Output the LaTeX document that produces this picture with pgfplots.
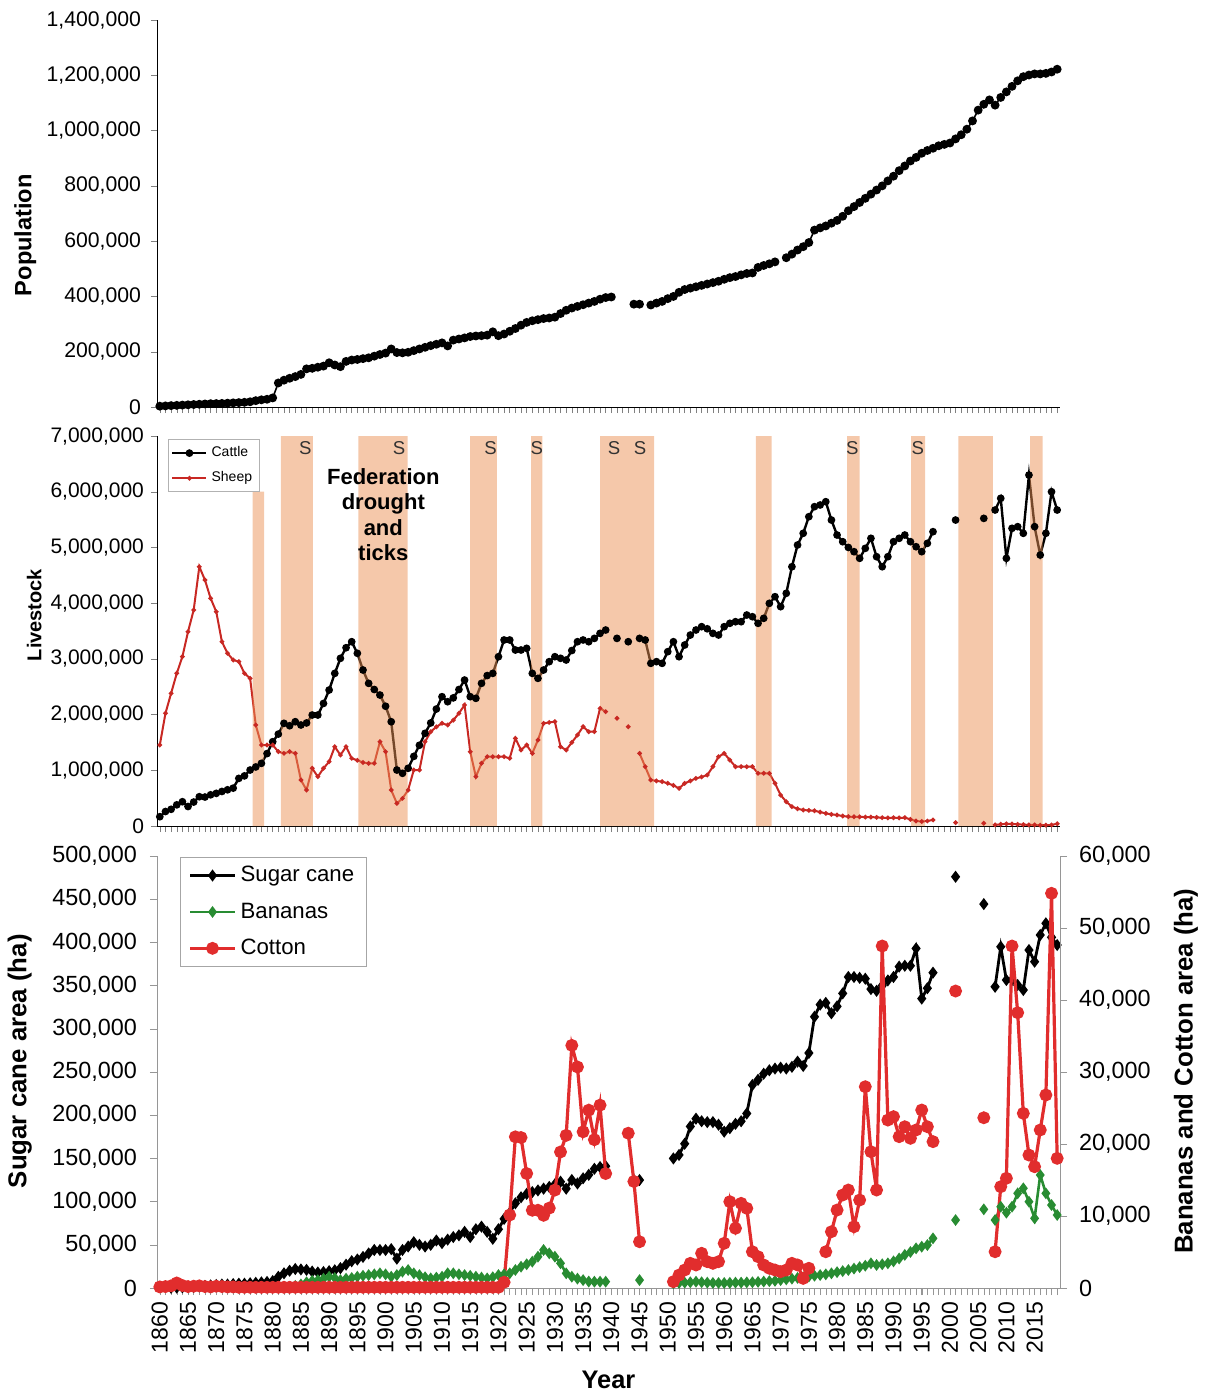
\documentclass[border=0pt]{standalone}
\usepackage{fontspec}
\setmainfont{Liberation Sans}
\usepackage{pgfplots}
\usepackage{pgfplotstable}
\pgfplotsset{compat=1.18}

\definecolor{bandc}{RGB}{235,145,85}
\definecolor{sheepred}{RGB}{200,40,35}
\definecolor{cottonred}{RGB}{225,45,45}
\definecolor{bananagreen}{RGB}{40,140,50}
\definecolor{axgray}{RGB}{150,150,150}
\definecolor{sgray}{RGB}{50,50,50}

% Population
\pgfplotstableread{
year pop
1860 3000
1861 4000
1862 5000
1863 6000
1864 7000
1865 8000
1866 9000
1867 10000
1868 11000
1869 12000
1870 12500
1871 13000
1872 14000
1873 15000
1874 16000
1875 17000
1876 19000
1877 23000
1878 26000
1879 28000
1880 33000
1881 87000
1882 97000
1883 104000
1884 110000
1885 118000
1886 138000
1887 140000
1888 144000
1889 148000
1890 160000
1891 152000
1892 146000
1893 165000
1894 170000
1895 172000
1896 175000
1897 178000
1898 184000
1899 190000
1900 195000
1901 210000
1902 197000
1903 196000
1904 198000
1905 204000
1906 210000
1907 216000
1908 222000
1909 227000
1910 232000
1911 221000
1912 242000
1913 246000
1914 250000
1915 255000
1916 257000
1917 258000
1918 260000
1919 272000
1920 258000
1921 264000
1922 274000
1923 284000
1924 296000
1925 306000
1926 312000
1927 316000
1928 320000
1929 322000
1930 325000
1931 338000
1932 350000
1933 358000
1934 364000
1935 370000
1936 376000
1937 382000
1938 390000
1939 396000
1940 398000
1941 nan
1942 nan
1943 nan
1944 372000
1945 372000
1946 nan
1947 369000
1948 376000
1949 382000
1950 392000
1951 400000
1952 415000
1953 425000
1954 430000
1955 435000
1956 440000
1957 445000
1958 450000
1959 455000
1960 462000
1961 468000
1962 472000
1963 478000
1964 483000
1965 485000
1966 505000
1967 512000
1968 518000
1969 525000
1970 nan
1971 540000
1972 553000
1973 568000
1974 580000
1975 595000
1976 640000
1977 648000
1978 655000
1979 665000
1980 675000
1981 690000
1982 710000
1983 725000
1984 740000
1985 755000
1986 770000
1987 785000
1988 800000
1989 818000
1990 835000
1991 855000
1992 872000
1993 890000
1994 903000
1995 918000
1996 928000
1997 936000
1998 945000
1999 950000
2000 955000
2001 970000
2002 985000
2003 1005000
2004 1035000
2005 1074000
2006 1095000
2007 1111000
2008 1092000
2009 1120000
2010 1140000
2011 1160000
2012 1180000
2013 1195000
2014 1201000
2015 1205000
2016 1205000
2017 1207000
2018 1212000
2019 1222000
}\popdata

% Livestock numbers
\pgfplotstableread{
year cattle sheep
1860 167000 1454000
1861 260000 2023000
1862 300000 2382000
1863 380000 2740000
1864 436000 3039000
1865 350000 3488000
1866 430000 3877000
1867 526000 4654000
1868 520000 4415000
1869 560000 4087000
1870 586000 3847000
1871 620000 3308000
1872 650000 3100000
1873 680000 2980000
1874 855000 2950000
1875 900000 2740000
1876 1005000 2651000
1877 1060000 1813000
1878 1125000 1454000
1879 1300000 1454000
1880 1513000 1454000
1881 1650000 1334000
1882 1843000 1304000
1883 1800000 1334000
1884 1872000 1304000
1885 1813000 826000
1886 1850000 646000
1887 1992000 1036000
1888 1992000 885000
1889 2200000 1036000
1890 2441000 1154000
1891 2740000 1424000
1892 3010000 1274000
1893 3200000 1424000
1894 3308000 1215000
1895 3100000 1180000
1896 2800000 1140000
1897 2561000 1125000
1898 2450000 1125000
1899 2351000 1513000
1900 2150000 1334000
1901 1872000 646000
1902 1005000 407000
1903 946000 496000
1904 1036000 646000
1905 1250000 1005000
1906 1450000 1005000
1907 1664000 1513000
1908 1850000 1693000
1909 2100000 1780000
1910 2321000 1843000
1911 2231000 1813000
1912 2300000 1900000
1913 2450000 2023000
1914 2620000 2172000
1915 2321000 1334000
1916 2292000 885000
1917 2561000 1125000
1918 2700000 1244000
1919 2740000 1244000
1920 3039000 1244000
1921 3339000 1244000
1922 3339000 1215000
1923 3159000 1574000
1924 3159000 1364000
1925 3189000 1454000
1926 2740000 1304000
1927 2651000 1544000
1928 2800000 1843000
1929 2950000 1860000
1930 3039000 1872000
1931 3010000 1424000
1932 2980000 1364000
1933 3150000 1500000
1934 3308000 1633000
1935 3339000 1783000
1936 3308000 1693000
1937 3368000 1693000
1938 3458000 2112000
1939 3518000 2052000
1940 nan nan
1941 3368000 1933000
1942 nan nan
1943 3308000 1783000
1944 nan nan
1945 3368000 1304000
1946 3339000 1065000
1947 2920000 826000
1948 2950000 810000
1949 2920000 796000
1950 3129000 766000
1951 3308000 730000
1952 3039000 676000
1953 3249000 766000
1954 3428000 810000
1955 3518000 855000
1956 3578000 880000
1957 3540000 915000
1958 3458000 1065000
1959 3428000 1244000
1960 3578000 1304000
1961 3638000 1185000
1962 3667000 1065000
1963 3667000 1065000
1964 3787000 1065000
1965 3757000 1065000
1966 3638000 946000
1967 3728000 946000
1968 3997000 946000
1969 4116000 766000
1970 3937000 556000
1971 4177000 436000
1972 4654000 347000
1973 5044000 310000
1974 5254000 287000
1975 5552000 280000
1976 5732000 275000
1977 5762000 250000
1978 5821000 227000
1979 5492000 210000
1980 5223000 197000
1981 5103000 180000
1982 5000000 167000
1983 4924000 165000
1984 4805000 165000
1985 4984000 160000
1986 5164000 160000
1987 4834000 155000
1988 4654000 150000
1989 4834000 145000
1990 5103000 150000
1991 5164000 145000
1992 5223000 150000
1993 5103000 120000
1994 5013000 90000
1995 4924000 80000
1996 5074000 90000
1997 5283000 110000
1998 nan nan
1999 nan nan
2000 nan nan
2001 5492000 60000
2002 nan nan
2003 nan nan
2004 nan nan
2005 nan nan
2006 5522000 50000
2007 nan nan
2008 5672000 20000
2009 5882000 30000
2010 4805000 40000
2011 5343000 35000
2012 5373000 30000
2013 5254000 25000
2014 6300000 20000
2015 5373000 20000
2016 4864000 15000
2017 5254000 15000
2018 6000000 20000
2019 5672000 40000
}\stockdata

% Crop areas (ha)
\pgfplotstableread{
year sugar bananas cotton
1860 nan nan 150
1861 nan nan 200
1862 300 nan 300
1863 500 nan 700
1864 800 nan 350
1865 1000 nan 200
1866 1500 nan 250
1867 2000 nan 300
1868 2500 nan 200
1869 3000 nan 150
1870 3500 nan 250
1871 4000 nan 200
1872 4000 nan 150
1873 4500 nan 150
1874 5000 nan 100
1875 5000 nan 100
1876 5500 nan 100
1877 6000 nan 100
1878 6500 nan 100
1879 7000 nan 100
1880 8000 nan 100
1881 13000 nan 100
1882 17000 nan 100
1883 20000 nan 100
1884 22000 300 100
1885 21500 500 100
1886 21000 800 100
1887 19000 1000 100
1888 18000 1100 100
1889 18500 1300 100
1890 19500 1570 100
1891 20500 1400 100
1892 23000 1100 100
1893 27000 1300 100
1894 31000 1400 100
1895 33000 1570 100
1896 36000 1700 100
1897 40000 1800 100
1898 44000 1900 100
1899 44000 2040 100
1900 44000 1900 100
1901 45000 1570 100
1902 34000 1800 100
1903 44000 2270 100
1904 48000 2500 100
1905 53000 2040 100
1906 50000 1800 100
1907 48000 1500 100
1908 50000 1340 100
1909 55000 1450 100
1910 52000 1570 100
1911 56000 2040 100
1912 59000 2040 100
1913 61000 1900 100
1914 65000 1800 100
1915 59000 1700 100
1916 68000 1570 100
1917 71000 1450 100
1918 65000 1340 100
1919 57000 1500 100
1920 68000 1800 100
1921 80000 1900 800
1922 87000 2040 10140
1923 98000 2500 21000
1924 105000 2960 20900
1925 109000 3300 15900
1926 111000 3660 10800
1927 113000 4350 10800
1928 115000 5280 10100
1929 117000 4820 11100
1930 120000 4350 13600
1931 123000 3430 18900
1932 115000 2040 21200
1933 125000 1570 33700
1934 121000 1300 30700
1935 127000 1100 21700
1936 131000 900 24700
1937 138000 880 20600
1938 140000 880 25400
1939 141000 880 15900
1940 nan nan nan
1941 nan nan nan
1942 nan nan nan
1943 nan nan 21500
1944 125000 nan 14800
1945 125000 1100 6430
1946 nan nan nan
1947 nan nan nan
1948 nan nan nan
1949 nan nan nan
1950 nan nan nan
1951 150000 650 880
1952 154000 700 1800
1953 167000 750 2500
1954 187000 800 3430
1955 196000 880 3200
1956 193000 800 4820
1957 192000 750 3660
1958 192000 700 3430
1959 189000 700 3660
1960 181000 700 6210
1961 185000 720 11990
1962 190000 750 8290
1963 193000 750 11760
1964 202000 780 11070
1965 235000 800 5040
1966 241000 850 4350
1967 248000 900 3200
1968 252000 950 2740
1969 254000 1000 2500
1970 255000 1100 2270
1971 254000 1200 2500
1972 256000 1300 3430
1973 262000 1400 3200
1974 257000 1500 1340
1975 272000 1600 2740
1976 314000 1700 nan
1977 328000 1800 nan
1978 330000 1900 5040
1979 318000 2040 7820
1980 326000 2200 10830
1981 341000 2350 12920
1982 360000 2500 13610
1983 360000 2700 8510
1984 359000 2900 12220
1985 358000 3100 27960
1986 346000 3430 18930
1987 344000 3200 13610
1988 350000 3300 47500
1989 356000 3430 23330
1990 360000 3700 23800
1991 372000 4100 21020
1992 373000 4600 22400
1993 373000 5000 20790
1994 393000 5510 21950
1995 335000 5740 24720
1996 347000 5970 22400
1997 365000 6900 20330
1998 nan nan nan
1999 nan nan nan
2000 nan nan nan
2001 476000 9440 41250
2002 nan nan nan
2003 nan nan nan
2004 nan nan nan
2005 nan nan nan
2006 444400 10930 23650
2007 nan nan nan
2008 348700 9440 5040
2009 395000 11290 14070
2010 356500 10460 15240
2011 356500 11290 47500
2012 350700 13150 38240
2013 344900 13850 24260
2014 391200 11990 18470
2015 377700 9680 16850
2016 408600 15700 21950
2017 422100 13150 26810
2018 405900 11530 54820
2019 397000 10140 18010
}\cropdata

\pgfplotsset{
  /pgf/number format/assume math mode=true,
  panel/.style={
    scale only axis, width=451.5pt,
    xmin=1859.5, xmax=2019.5,
    clip=false, unbounded coords=jump,
    scaled y ticks=false,
    tick align=outside,
    y tick label style={/pgf/number format/fixed, /pgf/number format/1000 sep={,}},
    x tick label style={/pgf/number format/1000 sep={}},
  },
  band/.style={draw=none, fill=bandc, fill opacity=0.5, forget plot},
}
\tikzset{slabel/.style={font=\fontsize{9.3}{10}\selectfont, text=sgray}}

\begin{document}
\begin{tikzpicture}
\path[use as bounding box] (-78.5pt,0pt) rectangle (524pt,-697pt);

% ---------------- Population ----------------
\begin{axis}[panel,
  at={(0pt,-203.5pt)}, anchor=south west, height=193.5pt,
  ymin=0, ymax=1400000, ytick={0,200000,...,1400000},
  axis x line*=bottom, axis y line*=left,
  xtick={1860,...,2019}, xticklabels={},
  major tick length=3pt,
  y tick label style={font=\fontsize{10.6}{11}\selectfont, xshift=-1.5pt},
  ylabel={\bfseries Population},
  ylabel style={at={(axis description cs:-0.146,0.444)}, anchor=center, font=\fontsize{11.8}{12}\selectfont},
]
\addplot[black, line width=0.8pt, mark=*, mark size=1.8pt] table[x=year, y=pop]{\popdata};
\end{axis}

% ---------------- Livestock ----------------
\begin{axis}[panel,
  at={(0pt,-413pt)}, anchor=south west, height=195pt,
  ymin=0, ymax=7000000, ytick={0,1000000,...,7000000},
  axis x line*=bottom, axis y line*=left,
  xtick={1860,...,2019}, xticklabels={},
  major tick length=3pt,
  y tick label style={font=\fontsize{10.5}{11}\selectfont},
  ylabel={\bfseries Livestock},
  ylabel style={at={(axis description cs:-0.136,0.541)}, anchor=center, font=\fontsize{10}{10}\selectfont},
  legend style={at={(0.012,0.992)}, anchor=north west, draw=gray!60, fill=white,
    font=\fontsize{7}{8}\selectfont, inner sep=1.5pt, row sep=2pt},
  legend cell align=left,
  legend image code/.code={\draw[mark repeat=2, mark phase=2, #1] plot coordinates {(0pt,0pt) (8.5pt,0pt) (17pt,0pt)};},
]
\addplot[black, line width=1.2pt, mark=*, mark size=1.3pt] table[x=year, y=cattle]{\stockdata};
\addlegendentry{Cattle}
\addplot[sheepred, line width=1pt, mark=*, mark size=0.6pt] table[x=year, y=sheep]{\stockdata};
\addlegendentry{Sheep}

% drought periods
\addplot[band] coordinates {(1876.46,0) (1876.46,6000000) (1878.46,6000000) (1878.46,0)} \closedcycle;
\addplot[band] coordinates {(1881.47,0) (1881.47,7000000) (1887.1,7000000) (1887.1,0)} \closedcycle;
\addplot[band] coordinates {(1895.17,0) (1895.17,7000000) (1903.9,7000000) (1903.9,0)} \closedcycle;
\addplot[band] coordinates {(1915.0,0) (1915.0,7000000) (1919.7,7000000) (1919.7,0)} \closedcycle;
\addplot[band] coordinates {(1925.8,0) (1925.8,7000000) (1927.8,7000000) (1927.8,0)} \closedcycle;
\addplot[band] coordinates {(1938.0,0) (1938.0,7000000) (1947.6,7000000) (1947.6,0)} \closedcycle;
\addplot[band] coordinates {(1965.6,0) (1965.6,7000000) (1968.4,7000000) (1968.4,0)} \closedcycle;
\addplot[band] coordinates {(1981.8,0) (1981.8,7000000) (1984.0,7000000) (1984.0,0)} \closedcycle;
\addplot[band] coordinates {(1993.1,0) (1993.1,7000000) (1995.6,7000000) (1995.6,0)} \closedcycle;
\addplot[band] coordinates {(2001.5,0) (2001.5,7000000) (2007.6,7000000) (2007.6,0)} \closedcycle;
\addplot[band] coordinates {(2014.2,0) (2014.2,7000000) (2016.4,7000000) (2016.4,0)} \closedcycle;

\node[slabel] at (axis cs:1885.8,6780000) {S};
\node[slabel] at (axis cs:1902.4,6780000) {S};
\node[slabel] at (axis cs:1918.6,6780000) {S};
\node[slabel] at (axis cs:1926.8,6780000) {S};
\node[slabel] at (axis cs:1940.5,6780000) {S};
\node[slabel] at (axis cs:1945.1,6780000) {S};
\node[slabel] at (axis cs:1982.7,6780000) {S};
\node[slabel] at (axis cs:1994.3,6780000) {S};
\node[font=\fontsize{11}{12.6}\selectfont\bfseries, align=center] at (axis cs:1899.6,5590000) {Federation\\drought\\and\\ticks};
\end{axis}

% ---------------- Crops: sugar cane (left axis) ----------------
\begin{axis}[panel,
  at={(0pt,-644pt)}, anchor=south west, height=216pt,
  ymin=0, ymax=500000, ytick={0,50000,...,500000},
  axis x line*=bottom, axis y line*=left,
  axis line style={draw=axgray}, major tick style={axgray}, minor tick style={axgray},
  major tick length=3.5pt, minor tick length=3.5pt,
  xtick={1860,1865,...,2015}, minor xtick={1860,...,2019},
  x tick label style={rotate=90, anchor=east, font=\fontsize{11.5}{12}\selectfont},
  y tick label style={font=\fontsize{11.7}{12}\selectfont, xshift=-3pt},
  xlabel={\bfseries Year},
  xlabel style={at={(axis description cs:0.5,-0.213)}, anchor=center, font=\fontsize{12.7}{13}\selectfont},
  ylabel={\bfseries Sugar cane area (ha)},
  ylabel style={at={(axis description cs:-0.152,0.525)}, anchor=center, font=\fontsize{12.9}{13}\selectfont},
]
\addplot[black, line width=1.4pt, mark=diamond*, mark size=1.9pt] table[x=year, y=sugar]{\cropdata};
\end{axis}

% ---------------- Crops: bananas and cotton (right axis) ----------------
\begin{axis}[panel,
  at={(0pt,-644pt)}, anchor=south west, height=216pt,
  ymin=0, ymax=60000, ytick={0,10000,...,60000},
  axis x line=none, axis y line*=right,
  axis line style={draw=axgray}, major tick style={axgray},
  major tick length=3.5pt,
  y tick label style={font=\fontsize{11.7}{12}\selectfont, xshift=2.5pt},
  ylabel={\bfseries Bananas and Cotton area (ha)},
  ylabel style={at={(axis description cs:1.1395,0.502)}, anchor=center, font=\fontsize{12.9}{13}\selectfont},
  legend style={at={(0.0255,0.998)}, anchor=north west, draw=gray!70, fill=white,
    font=\fontsize{11.1}{12}\selectfont, inner xsep=4pt, inner ysep=2.5pt, row sep=5pt},
  legend cell align=left,
  legend image code/.code={\draw[mark repeat=2, mark phase=2, #1] plot coordinates {(0pt,0pt) (11.25pt,0pt) (22.5pt,0pt)};},
]
\addlegendimage{black, line width=1.4pt, mark=diamond*, mark size=1.9pt}
\addlegendentry{Sugar cane}
\addplot[bananagreen, line width=1.3pt, mark=diamond*, mark size=1.9pt] table[x=year, y=bananas]{\cropdata};
\addlegendentry{Bananas}
\addplot[cottonred, line width=1.6pt, mark=*, mark size=2.4pt] table[x=year, y=cotton]{\cropdata};
\addlegendentry{Cotton}
\end{axis}
\end{tikzpicture}
\end{document}
